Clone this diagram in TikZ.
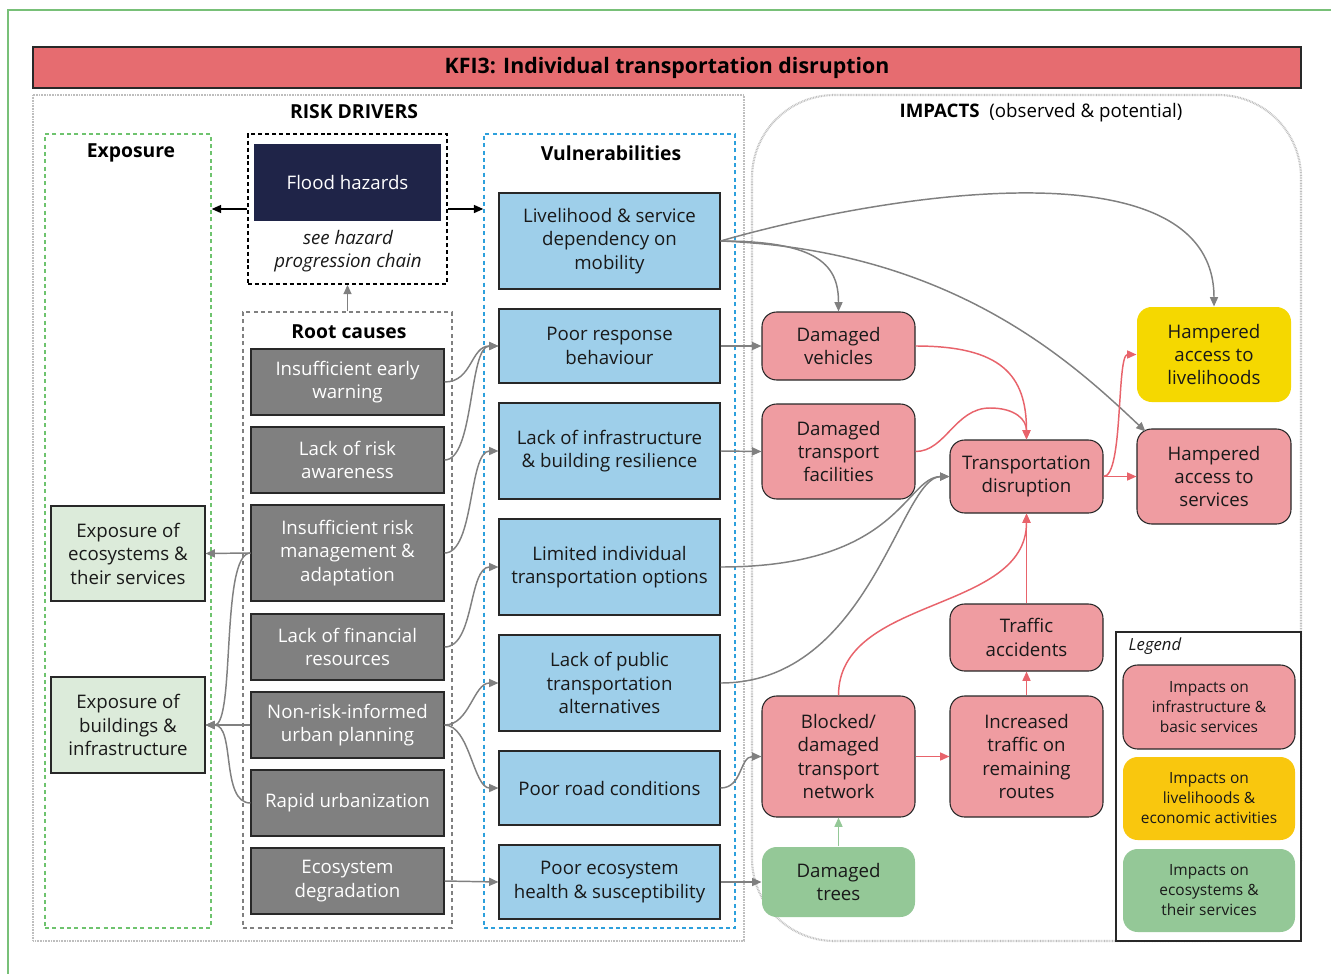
\documentclass[tikz,border=0pt]{standalone}
\usepackage{fontspec}
\setmainfont{Open Sans}
\usetikzlibrary{arrows.meta,calc}

\definecolor{titlered}{RGB}{230,108,112}
\definecolor{navy}{RGB}{31,36,72}
\definecolor{rootgray}{RGB}{128,128,128}
\definecolor{vulnblue}{RGB}{158,207,234}
\definecolor{expgreen}{RGB}{220,235,218}
\definecolor{imppink}{RGB}{239,156,161}
\definecolor{impyellow}{RGB}{245,216,0}
\definecolor{legyellow}{RGB}{249,199,14}
\definecolor{ecogreen}{RGB}{148,200,151}
\definecolor{redlink}{RGB}{232,99,107}
\definecolor{linkgray}{RGB}{128,128,128}
\definecolor{boxline}{RGB}{40,40,40}
\definecolor{ink}{RGB}{25,25,25}
\definecolor{framegray}{RGB}{190,190,190}
\definecolor{dashblue}{RGB}{45,160,220}
\definecolor{dashgreen}{RGB}{110,195,110}
\definecolor{outergreen}{RGB}{120,192,120}

% \placebox{style}{name}{x1}{y1}{x2}{y2}{text}: a box between two corners
\newcommand{\placebox}[7]{%
  \node[#1, minimum width={(#5-#3)*0.75pt}, minimum height={(#6-#4)*0.75pt}]
    (#2) at ({(#3+#5)/2},{(#4+#6)/2}) {#7};}

\begin{document}
\begin{tikzpicture}[x=0.75pt,y=-0.75pt,
  txt/.style={font=\fontsize{14}{17.6}\selectfont, text=ink},
  box/.style={txt, draw=boxline, line width=0.8pt, inner sep=0pt, align=center},
  rootbox/.style={box, fill=rootgray, text=white},
  vulnbox/.style={box, fill=vulnblue},
  expbox/.style={box, fill=expgreen},
  impbox/.style={box, rounded corners=11pt, fill=imppink},
  livbox/.style={box, draw=none, rounded corners=11pt, fill=impyellow},
  ecobox/.style={box, draw=none, rounded corners=11pt, fill=ecogreen},
  legtxt/.style={font=\fontsize{11.6}{15}\selectfont},
  head/.style={font=\bfseries\fontsize{14.5}{16}\selectfont, text=black},
  frame/.style={inner sep=0pt, line width=1.1pt, dash pattern=on 3pt off 2.5pt},
  drvframe/.style={draw=framegray, line width=1.6pt, dash pattern=on 0.6pt off 0.6pt},
  tip/.style={-{Triangle[length=7pt,width=6pt]}},
  link/.style={tip, draw=linkgray, line width=1.1pt},
  rlink/.style={tip, draw=redlink, line width=1.1pt},
  glink/.style={tip, draw=ecogreen, line width=1.1pt},
  klink/.style={tip, draw=black, line width=1.1pt},
]
\useasboundingbox (0,0) rectangle (1331,974);
\fill[white] (0,0) rectangle (1331,974);

% outer frame
\draw[outergreen, line width=1.6pt] (8,1010) -- (8,10) -- (1360,10);

% title bar
\placebox{draw=boxline, line width=0.8pt, fill=titlered, inner sep=0pt,
          font=\bfseries\fontsize{16}{18}\selectfont}{title}{33}{47}{1301}{88}
  {KFI3: Individual transportation disruption}

% the two main areas
\draw[drvframe] (33,95) rectangle (744,941);
\draw[drvframe, rounded corners=62pt] (752,95) rectangle (1301,941);
\node[head] (hdrivers) at (354,112) {RISK DRIVERS};
\node[font=\fontsize{14}{16}\selectfont, text=black] (himpacts) at (1041,113)
      {\textbf{IMPACTS}\ \ (observed \& potential)};

% column frames
\placebox{frame, draw=dashgreen}{expframe}{45}{134}{211}{928}{}
\placebox{frame, draw=black, line width=1.3pt, dash pattern=on 3pt off 2.2pt}{hazard}{248}{134}{447}{284}{}
\placebox{frame, draw=rootgray}{rootframe}{243}{312}{452}{928}{}
\placebox{frame, draw=dashblue}{vulnframe}{484}{134}{735}{928}{}

\node[head] (hexp) at (131,153) {Exposure};
\node[head] (hroot) at (349,332) {Root causes};
\node[head] (hvuln) at (611,153) {Vulnerabilities};

% hazard
\placebox{txt, fill=navy, inner sep=0pt, text=white}{flood}{254}{144}{441}{221}{Flood hazards}
\node[txt, align=center, font=\itshape\fontsize{14}{17.6}\selectfont] (hzref) at (348,251)
      {see hazard\\progression chain};

% root causes
\placebox{rootbox}{r1}{251}{349}{444}{415}{Insufficient early\\warning}
\placebox{rootbox}{r2}{251}{427}{444}{493}{Lack of risk\\awareness}
\placebox{rootbox}{r3}{251}{505}{444}{601}{Insufficient risk\\management \&\\adaptation}
\placebox{rootbox}{r4}{251}{614}{444}{680}{Lack of financial\\resources}
\placebox{rootbox}{r5}{251}{692}{444}{758}{Non-risk-informed\\urban planning}
\placebox{rootbox}{r6}{251}{770}{444}{836}{Rapid urbanization}
\placebox{rootbox}{r7}{251}{848}{444}{914}{Ecosystem\\degradation}

% vulnerabilities
\placebox{vulnbox}{v1}{499}{193}{720}{289}{Livelihood \& service\\dependency on\\mobility}
\placebox{vulnbox}{v2}{499}{309}{720}{383}{Poor response\\behaviour}
\placebox{vulnbox}{v3}{499}{403}{720}{499}{Lack of infrastructure\\\& building resilience}
\placebox{vulnbox}{v4}{499}{519}{720}{615}{Limited individual\\transportation options}
\placebox{vulnbox}{v5}{499}{635}{720}{731}{Lack of public\\transportation\\alternatives}
\placebox{vulnbox}{v6}{499}{751}{720}{825}{Poor road conditions}
\placebox{vulnbox}{v7}{499}{845}{720}{919}{Poor ecosystem\\health \& susceptibility}

% exposure
\placebox{expbox}{e1}{51}{506}{205}{601}{Exposure of\\ecosystems \&\\their services}
\placebox{expbox}{e2}{51}{677}{205}{773}{Exposure of\\buildings \&\\infrastructure}

% impacts
\placebox{impbox}{dv}{762}{312}{915}{380}{Damaged\\vehicles}
\placebox{impbox}{dtf}{762}{404}{915}{499}{Damaged\\transport\\facilities}
\placebox{impbox}{td}{950}{440}{1103}{513}{Transportation\\disruption}
\placebox{livbox}{hal}{1137}{307}{1291}{402}{Hampered\\access to\\livelihoods}
\placebox{impbox}{has}{1137}{429}{1291}{524}{Hampered\\access to\\services}
\placebox{impbox}{ta}{950}{604}{1103}{671}{Traffic\\accidents}
\placebox{impbox}{bdt}{762}{696}{915}{817}{Blocked/\\damaged\\transport\\network}
\placebox{impbox}{itr}{950}{696}{1103}{817}{Increased\\traffic on\\remaining\\routes}
\placebox{ecobox}{dt}{762}{847}{915}{917}{Damaged\\trees}

% legend
\placebox{draw=boxline, line width=0.8pt, fill=white, inner sep=0pt}{legend}{1116}{632}{1301}{941}{}
\node[font=\itshape\fontsize{12.5}{15}\selectfont, text=ink, anchor=west] (leghead) at (1124,646) {Legend};
\placebox{impbox, legtxt}{l1}{1123}{665}{1295}{749}{Impacts on\\infrastructure \&\\basic services}
\placebox{box, legtxt, draw=none, rounded corners=11pt, fill=legyellow}{l2}{1123}{757}{1295}{840}{Impacts on\\livelihoods \&\\economic activities}
\placebox{ecobox, legtxt}{l3}{1123}{849}{1295}{932}{Impacts on\\ecosystems \&\\their services}

% hazard links
\draw[klink] (hazard.west) -- (expframe.east |- hazard.west);
\draw[klink] (hazard.east) -- (vulnframe.west |- hazard.east);
\draw[link] (rootframe.north) -- (hazard.south);

% root causes -> vulnerabilities
\draw[link] (r1.east) .. controls +(28,0) and +(-28,0) .. (v2.west);
\draw[link] (r2.east) .. controls +(30,0) and +(-30,0) .. (v2.west);
\draw[link] (r3.east) .. controls +(30,0) and +(-30,0) .. (v3.west);
\draw[link] (r4.east) .. controls +(30,0) and +(-30,0) .. (v4.west);
\draw[link] (r5.east) .. controls +(25,0) and +(-25,0) .. (v5.west);
\draw[link] (r5.east) .. controls +(25,0) and +(-25,0) .. (v6.west);
\draw[link] (r7.east) -- (v7.west);

% root causes -> exposure
\draw[link] (r3.west) -- (e1.east);
\draw[link] (r3.west) .. controls +(-30,0) and +(30,0) .. (e2.east);
\draw[link] (r5.west) -- (e2.east);
\draw[link] (r6.west) .. controls +(-30,0) and +(30,0) .. (e2.east);

% vulnerabilities -> impacts
\draw[link] (v1.east) .. controls +(100,0) and +(0,-45) .. (dv.north);
\draw[link] (v1.east) .. controls (880,195) and (1214,140) .. (hal.north);
\draw[link] (v1.east) .. controls (950,250) and (1070,360) .. ($(has.north west)+(9,3)$);
\draw[link] (v2.east) -- (dv.west);
\draw[link] (v3.east) -- (dtf.west);
\draw[link] (v4.east) .. controls (900,567) and (905,477) .. (td.west);
\draw[link] (v5.east) .. controls (870,683) and (900,477) .. (td.west);
\draw[link] (v6.east) .. controls +(22,0) and +(-22,0) .. (bdt.west);
\draw[link] (v7.east) -- (dt.west);

% impact chains
\draw[rlink] (dv.east) .. controls +(85,0) and +(0,-65) .. (td.north);
\draw[rlink] (dtf.east) .. controls +(30,0) and +(-35,0) .. (990,408)
             .. controls +(25,0) and +(0,-20) .. (td.north);
\draw[rlink] (td.east) -- (has.west);
\draw[rlink] (td.east) .. controls +(20,0) and +(-20,0) .. (hal.west);
\draw[rlink] (ta.north) -- (td.south);
\draw[rlink] (bdt.north) .. controls +(0,-100) and +(0,100) .. (td.south);
\draw[rlink] (bdt.east) -- (itr.west);
\draw[rlink] (itr.north) -- (ta.south);
\draw[glink] (dt.north) -- (bdt.south);
\end{tikzpicture}
\end{document}
